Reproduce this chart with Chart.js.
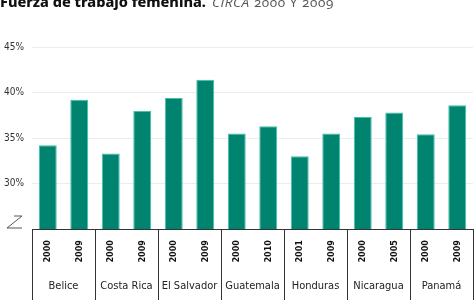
<!DOCTYPE html>
<html>
<head>
<meta charset="utf-8">
<script src="https://cdn.jsdelivr.net/npm/chart.js@4"></script>
<style>
  body { margin: 0; background: #fff; }
  #wrap { position: relative; width: 475px; height: 303px; overflow: hidden; }
  #title { position: absolute; left: 0; top: -9px; white-space: nowrap; color: #111; }
  #title b { font-family: "Noto Sans", sans-serif; font-size: 14.5px; font-weight: 800; }
  #title span { font-family: "Open Sans", sans-serif; font-size: 13.5px; font-weight: 400; letter-spacing: 0.6px; color: #555; margin-left: 6px; font-feature-settings: "onum"; }
  #title i { font-style: italic; }
  canvas { position: absolute; left: 0; top: 0; }
</style>
</head>
<body>
<div id="wrap">
  <canvas id="chart" width="475" height="303"></canvas>
  <div id="title"><b>Fuerza de trabajo femenina.</b><span><i>CIRCA</i> 2000 Y 2009</span></div>
</div>
<script>
// Data
const countries = ["Belice", "Costa Rica", "El Salvador", "Guatemala", "Honduras", "Nicaragua", "Panamá"];
const years = ["2000", "2009", "2000", "2009", "2000", "2009", "2000", "2010", "2001", "2009", "2000", "2005", "2000", "2009"];
const values = [34.2, 39.2, 33.3, 38.0, 39.4, 41.4, 35.5, 36.3, 33.0, 35.5, 37.3, 37.8, 35.4, 38.6];
const yTicks = [25, 30, 35, 40, 45];

const narrow = "'Liberation Sans Narrow', 'DejaVu Sans Condensed', sans-serif";

// separators between countries + axis break mark
const groupLines = {
    id: "groupLines",
    afterDraw(chart) {
        const c = chart.ctx;
        const x = chart.scales.x;
        const area = chart.chartArea;
        c.save();
        c.strokeStyle = "#333";
        c.lineWidth = 1;
        const xs = [area.left];
        for (let i = 1; i < countries.length; i++) {
            xs.push((x.getPixelForValue(2 * i - 1) + x.getPixelForValue(2 * i)) / 2);
        }
        xs.push(area.right);
        xs.forEach(px => {
            c.beginPath();
            c.moveTo(Math.round(px) + 0.5, area.bottom);
            c.lineTo(Math.round(px) + 0.5, 300);
            c.stroke();
        });
        // break symbol at the bottom of the y axis
        const yb = chart.scales.y.getPixelForValue(yTicks[0]);
        c.strokeStyle = "#555";
        c.beginPath();
        c.moveTo(14, yb - 13);
        c.lineTo(22, yb - 13);
        c.lineTo(7, yb - 1);
        c.lineTo(22, yb - 1);
        c.stroke();
        c.restore();
    }
};

new Chart(document.getElementById("chart"), {
    type: "bar",
    data: {
        labels: years,
        datasets: [{
            data: values,
            backgroundColor: "#00846f",
            borderColor: "#3cc2ad",
            borderWidth: 1,
            barPercentage: 0.57,
            categoryPercentage: 1
        }]
    },
    options: {
        responsive: false,
        animation: false,
        layout: { padding: { top: 47, right: 2, left: 4, bottom: 0 } },
        plugins: { legend: { display: false }, tooltip: { enabled: false } },
        scales: {
            x: {
                grid: { display: false },
                border: { color: "#333" },
                ticks: {
                    minRotation: 90, maxRotation: 90, padding: 3,
                    color: "#111", font: { family: narrow, size: 9, weight: "bold" }
                },
                afterFit(s) { s.height = 42; }
            },
            x2: {
                type: "category",
                labels: countries,
                position: "bottom",
                grid: { display: false },
                border: { display: false },
                ticks: {
                    color: "#222", padding: 1, maxRotation: 0, minRotation: 0, autoSkip: false,
                    font: { family: narrow, size: 11 }
                },
                afterFit(s) { s.height = 32; }
            },
            y: {
                min: yTicks[0],
                max: yTicks[yTicks.length - 1],
                afterBuildTicks(s) { s.ticks = yTicks.map(v => ({ value: v })); },
                grid: { color: "#ececec", drawTicks: false },
                border: { display: false },
                ticks: {
                    padding: 6,
                    crossAlign: "far",
                    color: "#333",
                    font: { family: narrow, size: 10 },
                    callback: v => v === yTicks[0] ? "" : v + "%"
                },
                afterFit(s) { s.width = 28; }
            }
        }
    },
    plugins: [groupLines]
});
</script>
</body>
</html>
